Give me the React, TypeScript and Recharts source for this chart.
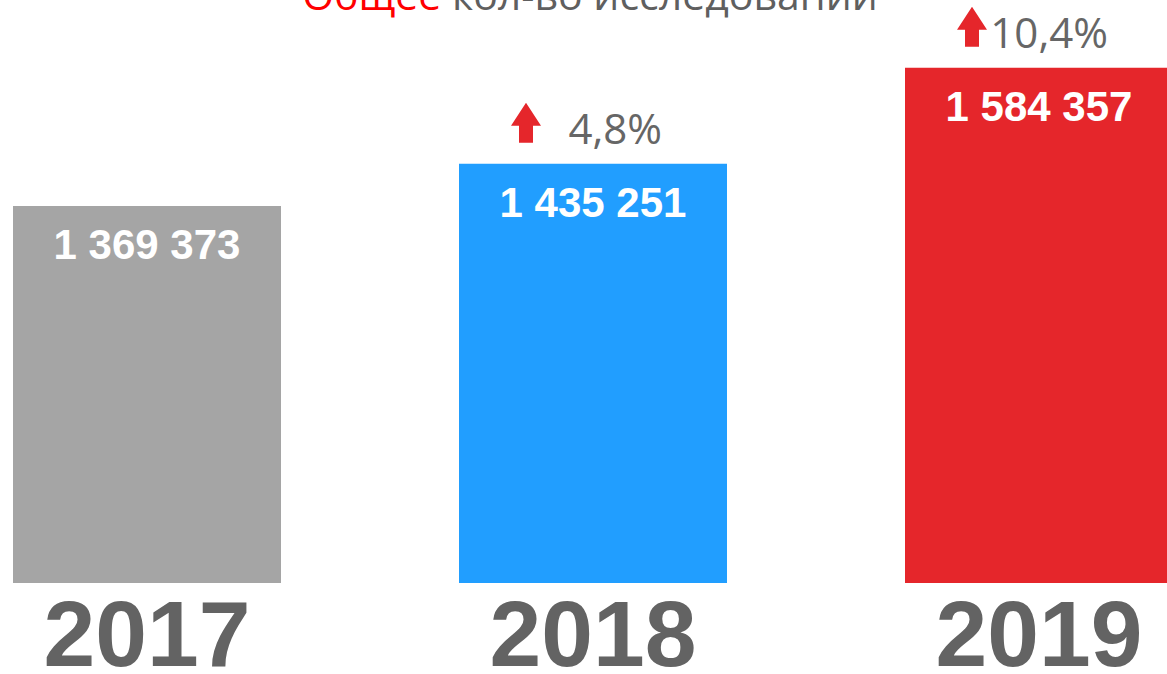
import React from "react";
import { BarChart, Bar, XAxis, YAxis, Cell, LabelList } from "recharts";

const years = ["2017", "2018", "2019"];
const totals = [1369373, 1435251, 1584357];
const growth = ["", "4,8%", "10,4%"];
const valueLabels = ["1 369 373", "1 435 251", "1 584 357"];
const barColors = ["#A5A5A5", "#219EFF", "#E5262B"];

const data = years.map((y, i) => ({
  year: y,
  total: totals[i],
  label: valueLabels[i],
  growth: growth[i],
}));

const YearTick = (props: any) => {
  const { x, y, payload } = props;
  return (
    <text
      x={x}
      y={y + 75}
      textAnchor="middle"
      fill="#636363"
      fontFamily="Liberation Sans, Arial, sans-serif"
      fontWeight="bold"
      fontSize={93}
    >
      {payload.value}
    </text>
  );
};

const ValueLabel = (props: any) => {
  const { x, y, width, index } = props;
  const cx = x + width / 2;
  return (
    <text
      x={cx}
      y={y + 53}
      textAnchor="middle"
      fill="#FFFFFF"
      fontFamily="Liberation Sans, Arial, sans-serif"
      fontWeight="bold"
      fontSize={42}
    >
      {data[index].label}
    </text>
  );
};

const GrowthLabel = (props: any) => {
  const { x, y, width, index } = props;
  const g = data[index].growth;
  if (!g) return null;
  const cx = x + width / 2;
  const ax = cx - 67;
  const bottom = y - 21;
  const top = bottom - 40;
  const headH = 23;
  const headW = 30;
  const shaftW = 14;
  const d = `M${ax} ${top} L${ax + headW / 2} ${top + headH} L${ax + shaftW / 2} ${top + headH} L${ax + shaftW / 2} ${bottom} L${ax - shaftW / 2} ${bottom} L${ax - shaftW / 2} ${top + headH} L${ax - headW / 2} ${top + headH} Z`;
  return (
    <g>
      <path d={d} fill="#E5262B" />
      <text
        x={cx + 69}
        y={bottom + 1}
        textAnchor="end"
        fill="#666666"
        fontFamily="Open Sans, sans-serif"
        fontSize={42}
      >
        {g}
      </text>
    </g>
  );
};

export default function App() {
  return (
    <div
      style={{
        position: "absolute",
        left: 0,
        top: 0,
        width: 1167,
        height: 674,
        overflow: "hidden",
        background: "#fff",
      }}
    >
      <div style={{ position: "absolute", left: -76, top: 0 }}>
        <BarChart
          width={1338}
          height={674}
          data={data}
          margin={{ top: 40, right: 0, bottom: 0, left: 0 }}
          barCategoryGap={89}
        >
          <XAxis
            dataKey="year"
            axisLine={false}
            tickLine={false}
            height={91}
            interval={0}
            tick={<YearTick />}
          />
          <YAxis hide domain={[783000, 1627700]} allowDataOverflow />
          <Bar dataKey="total" isAnimationActive={false}>
            {data.map((d, i) => (
              <Cell key={d.year} fill={barColors[i]} />
            ))}
            <LabelList dataKey="label" content={<ValueLabel />} />
            <LabelList dataKey="growth" content={<GrowthLabel />} />
          </Bar>
        </BarChart>
      </div>
      <svg
        width={1167}
        height={674}
        style={{ position: "absolute", left: 0, top: 0, pointerEvents: "none" }}
      >
        <text
          x={590}
          y={10}
          textAnchor="middle"
          fontFamily="Open Sans, sans-serif"
          fontSize={41}
          fill="#5F5F5F"
        >
          <tspan fill="#FF0000">Общее</tspan> кол-во исследований
        </text>
      </svg>
    </div>
  );
}
